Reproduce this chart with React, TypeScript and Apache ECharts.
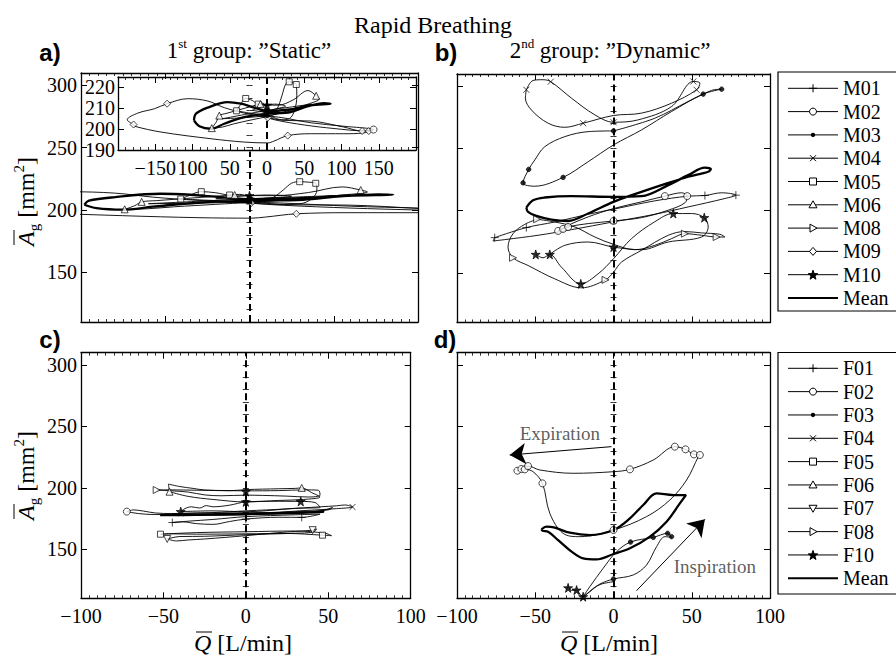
import React, { useEffect, useRef } from 'react';
import * as echarts from 'echarts';

type Pt = [number, number];

// ---------------- tick labels ----------------
const xTickValues = [-100, -50, 0, 50, 100];
const yTickValues = [150, 200, 250, 300];
const insetXLabelValues = [-150, -100, -50, 0, 50, 100, 150];
const insetXLabelTexts = ['\u2212150', '100', '50', '0', '50', '100', '150'];
const insetYTickValues = [190, 200, 210, 220];

// ---------------- panel a (1st group, males) + inset ----------------
const aM09: Pt[] = [[-179.1,202.2],[-187.6,204.5],[-173.3,207.7],[-151,209.8],[-134.1,212.2],[-106.4,214.6],[-79.7,213.5],[-57.4,210.3],[-30.6,207.7],[1,205.5],[22.9,204.2],[58.5,203.9],[103.1,201],[127.7,199.1],[143.3,199.8],[129.9,198.2],[103.1,197.8],[58.5,197.8],[27.8,196.9],[9.5,194.3],[1,193.4],[-30.6,193.8],[-75.2,195.4],[-142.1,198.6],[-177.8,201.4],[-179.1,202.2]];
const aM09Marks: Pt[] = [[-179.1,202.2],[-134.1,212.2],[1,205.5],[27.8,196.9],[127.7,199.1],[136.6,199.1]];
const aM05: Pt[] = [[-40.8,208.8],[-36,211.5],[-28.6,214.7],[-20,213.8],[-11.8,212],[-6,212.5],[0,210.5],[8,208],[14,210],[20,216],[25,221.5],[29.8,222.7],[35,222.3],[39.3,221.4],[40,216],[37,209],[30,205],[20,204.5],[5,206],[-10,207],[-25,207.8],[-40.8,208.8]];
const aM05Marks: Pt[] = [[-40.8,208.8],[-28.6,214.7],[-11.8,212],[29.8,222.7],[39.3,221.4]];
const aM06: Pt[] = [[-74.1,200.5],[-68,203.5],[-64,206.5],[-55,207.5],[-45,208.5],[-30,210],[-15,211.5],[-8.8,212],[0,211.5],[15,211.5],[35,214],[55,218.5],[66,216],[70,214.5],[55,212],[30,209],[10,207],[0,206],[-20,204.5],[-45,202.5],[-60,201],[-74.1,200.5]];
const aM06Marks: Pt[] = [[-74.1,200.5],[-64,206.5],[-8.8,212],[66,216]];
const aM02: Pt[] = [[-10,206.8],[20,205.5],[60,203],[100,201.5],[143,199.8],[130,199.2],[90,200.3],[50,202],[10,204.5],[-10,206.8]];
const aM02Marks: Pt[] = [[143,199.8]];
const aM03: Pt[] = [[-60,205],[-30,207],[0,209],[30,210.5],[60,212],[30,208.5],[0,206.5],[-30,205.5],[-60,205]];
const aM03Marks: Pt[] = [[0,209],[0,206.5]];
const aM10: Pt[] = [[-20,209],[-10,210.5],[0,211.5],[10,212],[25,211],[10,209.5],[0,208],[-10,208.5],[-20,209]];
const aM10Marks: Pt[] = [[0,211.5],[0,208]];
const aMean: Pt[] = [[-98,204.2],[-95.3,207.4],[-79.7,210.3],[-52.9,213],[-35.1,212.2],[-17.3,210.3],[1,208.7],[27.3,209.3],[58.5,211.4],[85.3,212.2],[76.4,212.5],[54,210.9],[31.8,208.2],[1,207.4],[-30.6,205.8],[-57.4,202.6],[-75.2,200.2],[-90.8,201.4],[-98,204.2]];

// ---------------- panel b (2nd group, males) ----------------
const bM04: Pt[] = [[-55.7,297.3],[-51.4,304.8],[-45,305.4],[-40.1,303.8],[-26.9,290.6],[-11.9,277.1],[0,271.2],[15.8,273.1],[37.1,283.8],[51,304],[55.2,302.7],[53.1,297.3],[37.1,286.5],[17.9,278.5],[0,276.6],[-19.4,270.4],[-31.1,267.1],[-41.8,270.4],[-52.5,281.1],[-56.3,290.6],[-55.7,297.3]];
const bM04Marks: Pt[] = [[-55.7,297.3],[-40.1,303.8],[0,271.2],[51,304],[53.1,297.3],[-19.4,270.4]];
const bM03: Pt[] = [[0,264.2],[-16.2,263.6],[-31.1,259.6],[-43.9,251.5],[-50.3,240.8],[-54.2,233.2],[-57.8,222.4],[-50.3,219.7],[-32.2,226.8],[-16.2,239.4],[0,252.9],[17.9,265],[37.1,279.8],[57.3,293.8],[69.1,297.8],[62.7,296.8],[47.7,287.9],[26.4,274.4],[0,264.2]];
const bM03Marks: Pt[] = [[0,264.2],[-54.2,233.2],[-57.8,222.4],[-32.2,226.8],[57.3,293.8],[69.1,297.8]];
const bMean: Pt[] = [[-55.7,202.5],[-51.4,208.4],[-43.9,210.6],[-26.9,211.7],[0,211.1],[17.9,211.7],[35,220.6],[47.7,228.6],[58.4,234.6],[62.2,233.5],[60.5,231.3],[47.7,227.3],[30.7,220.6],[13.6,213.3],[0,207.1],[-16.2,197.7],[-29,191.7],[-39.7,192.8],[-49.3,195.8],[-54.6,199],[-55.7,202.5]];
const bM01: Pt[] = [[-75.9,178.3],[-55.7,186.4],[-37.5,190.9],[-16.2,197.1],[0,201.2],[26.4,207.9],[47.7,211.7],[58.4,212.2],[69.1,214.4],[78.2,212.5],[71.2,209.8],[47.7,203],[26.4,197.1],[0,191],[-26.9,184.7],[-48.2,180.2],[-69.5,176.7],[-77,175.6],[-75.9,178.3]];
const bM01Marks: Pt[] = [[-75.9,178.3],[-55.7,186.4],[58.4,212.2],[78.2,212.5]];
const bM02: Pt[] = [[-35.4,183.7],[-29,186.9],[-16.2,189.6],[0,191.7],[17.9,194.4],[35,200.4],[45.6,206.3],[47.1,211.7],[43.5,214.4],[32.8,211.7],[17.9,207.1],[0,201.7],[-16.2,195],[-29,188.2],[-35.4,183.7]];
const bM02Marks: Pt[] = [[-35.4,183.7],[-32.2,185.3],[-29,186.9],[0,191.7],[32.8,211.7],[47.1,211.7]];
const bM10: Pt[] = [[-49.7,164.8],[-45,162.1],[-40.7,164.8],[-33.3,154.6],[-20.9,141.1],[-9.8,149.2],[0,161.3],[11.5,177.5],[26.4,191.1],[38.2,197.7],[49.9,197.7],[58,194.4],[60.5,186.9],[56.3,178.8],[35,174.8],[17.9,168.6],[0,170.7],[-16.2,174.8],[-31.1,172.1],[-40.7,164.8]];
const bM10Marks: Pt[] = [[-49.7,164.8],[-40.7,164.8],[-20.9,141.1],[38.2,197.7],[58,194.4],[0,170.7]];
const bM08: Pt[] = [[-48.8,193.1],[-37.5,190.9],[-24.7,186.9],[-11.9,178.8],[0,172.9],[13.6,168.6],[26.4,172.1],[37.1,177.5],[45.6,181.5],[56.3,180.2],[65.9,178.8],[71.2,178.8],[68,181],[56.3,182.1],[45.6,183.2],[35,180.2],[17.9,168.1],[5.1,158.6],[0,150.5],[-5.1,144.3],[-20.5,137.9],[-37.5,145.1],[-54.6,155.9],[-64.2,162.1],[-67.4,170.7],[-64.2,181.5],[-56.7,189],[-48.8,193.1]];
const bM08Marks: Pt[] = [[-48.8,193.1],[-64.2,162.1],[-5.1,144.3],[45.6,181.5],[65.9,178.8]];

// ---------------- panel c (1st group, females) ----------------
const cF08: Pt[] = [[-54.1,198.2],[-46,198.3],[-30,198],[-15,197.8],[0,197.5],[20,197.7],[35,198.3],[44,198],[45,194],[38,192.5],[25,193.2],[10,193.8],[0,194],[-15,193.5],[-25,194.2],[-35,196.5],[-45,197.5],[-54.1,198.2]];
const cF08Marks: Pt[] = [[-54.1,198.2]];
const cF06: Pt[] = [[-46.3,196.8],[-47,203],[-40,201],[-32,199.5],[-25,198.2],[-10,197.6],[0,198.5],[20,199.2],[30,199.5],[33.9,199.9],[40,196],[45,192.5],[35,190.5],[20,189.7],[0,188.5],[-20,190.5],[-35,193],[-46.3,196.8]];
const cF06Marks: Pt[] = [[-46.3,196.8],[33.9,199.9]];
const cF10: Pt[] = [[-39.5,180.6],[-37,183],[-33,184.5],[-28,183.5],[-24,185.5],[-20,184.5],[-10,185.8],[0,188.5],[15,189],[33.3,188.9],[42,188],[45,184],[30,183.3],[0,180.5],[-20,181.2],[-39.5,180.6]];
const cF10Marks: Pt[] = [[-39.5,180.6],[0,188.5],[33.3,188.9],[0,197]];
const cF02: Pt[] = [[-72.2,180.6],[-68,182],[-62,181],[-55,179.5],[-45,179],[-30,179.5],[0,179.5],[30,180.5],[50,182],[52.6,184],[45,181],[20,179],[0,178.5],[-30,178.3],[-55,178.2],[-65,179],[-72.2,180.6]];
const cF02Marks: Pt[] = [[-72.2,180.6]];
const cF04: Pt[] = [[-45,178.8],[-20,179.8],[0,181.2],[25,182.8],[45,184.5],[55,185.3],[60,186],[64.7,184.4],[55,183],[30,181],[0,178],[-20,177.8],[-45,178.8]];
const cF04Marks: Pt[] = [[64.7,184.4]];
const cF05: Pt[] = [[-51.8,162.2],[-45,162.5],[-30,162.2],[0,162.5],[25,162.8],[46.5,161.4],[52,161],[48,163],[30,164.8],[0,164.2],[-30,163.5],[-51.8,162.2]];
const cF05Marks: Pt[] = [[-51.8,162.2],[46.5,161.4]];
const cF07: Pt[] = [[-47.7,158.3],[-42,156.7],[-35,157.5],[-25,158.3],[0,161],[20,163.5],[40.5,165.5],[43,166.5],[41,164],[30,163],[0,161.8],[-25,160.5],[-40,160.3],[-47.7,158.3]];
const cF07Marks: Pt[] = [[-47.7,158.3],[40.5,165.5]];
const cF01: Pt[] = [[-44.6,171.7],[-38,172.2],[-30,170.8],[-20,170.2],[-10,172.5],[0,174.5],[20,176],[33.9,175.9],[45,178.5],[30,178],[0,176.5],[-20,174.2],[-35,172.8],[-44.6,171.7]];
const cF01Marks: Pt[] = [[-44.6,171.7],[0,174.5],[33.9,175.9]];
const cMean: Pt[] = [[-52,177.8],[-30,178.2],[0,179],[30,179.8],[47,180.3],[30,179.4],[0,178.6],[-30,177.9],[-52,177.8]];

// ---------------- panel d (2nd group, females) ----------------
const dF02: Pt[] = [[-61.4,213.9],[-58.9,215.8],[-54.6,217.7],[-47.1,214.5],[-25.8,211.8],[0,213.1],[10.5,215],[25.4,222.6],[39.2,233.5],[46,231.3],[51.4,227.2],[55.2,226.7],[54.2,225.3],[46.7,206.3],[36,190],[21.1,176.5],[0,165.6],[-21.5,160.2],[-32.2,162.9],[-40.7,179.2],[-45.4,203.6],[-51.4,213.1],[-56.7,215],[-61.4,213.9]];
const dF02Marks: Pt[] = [[-61.4,213.9],[-58.9,215.3],[-56.7,215],[-54.6,217.7],[-45.4,203.6],[0,165.6],[10.5,215],[39.2,233.5],[46,231.3],[51.4,227.2],[55.2,226.7]];
const dMean: Pt[] = [[-46,166.1],[-42.8,168.3],[-37.5,167.5],[-27.9,163.4],[-15.1,161.5],[0,165.6],[10.5,175.1],[19,186],[27.5,195.4],[38.2,194.1],[46.3,194.1],[42.4,187.3],[33.9,172.4],[23.3,160.2],[10.5,150.7],[0,146.1],[-10.9,141.7],[-19.4,142.5],[-26.8,148],[-35.4,157.4],[-41.8,164.2],[-45.4,165],[-46,166.1]];
const dF03: Pt[] = [[-19.4,111.3],[-15.1,119.5],[-6.6,134.4],[1.9,147.9],[10.9,155.8],[25.4,159.6],[34.6,162.9],[37.1,159.6],[32.9,160.2],[27.5,152],[21.1,137.1],[12.6,129],[0,125.7],[-8.7,121.6],[-15.1,115.4],[-19.4,111.3]];
const dF03Marks: Pt[] = [[10.9,155.8],[25.4,159.6],[34.6,162.9],[37.1,160.2],[0,125.7]];
const dF10: Pt[] = [[-30,117],[-29,119.5],[-27,116.5],[-23.6,116.7],[-21.5,113.5],[-19.4,111.3],[-17.5,113],[-13,118],[-8,121.5],[0,123.5]];
const dF10Marks: Pt[] = [[-29,118.5],[-23.6,116.7],[-19.4,111.3]];
const expirationArrow: Pt[] = [[-1.3,233.5],[-66.3,226.7]];
const inspirationArrow: Pt[] = [[14.7,116.2],[58.4,174.3]];
const expirationLabel: Pt = [-34.3,243.8];
const inspirationLabel: Pt = [64.8,135.7];

// ---------------- legends ----------------
const legendM = ['M01','M02','M03','M04','M05','M06','M08','M09','M10','Mean'];
const legendF = ['F01','F02','F03','F04','F05','F06','F07','F08','F10','Mean'];
const SYM_OF: Record<string,string> = {
  M01:'plus', M02:'circle', M03:'dot', M04:'cross', M05:'square', M06:'tri', M08:'triR', M09:'diamond', M10:'star',
  F01:'plus', F02:'circle', F03:'dot', F04:'cross', F05:'square', F06:'tri', F07:'triD', F08:'triR', F10:'star', Mean:'none',
};

const FONT = 'Liberation Serif, DejaVu Serif, serif';
const SANS = 'Liberation Sans, DejaVu Sans, sans-serif';

const STAR_PATH = 'path://M50,0L61,35L98,35L68,57L79,91L50,70L21,91L32,57L2,35L39,35Z';
const SYMBOLS: Record<string, { symbol: string; size: number; fill: string }> = {
  plus: { symbol: 'path://M5,0L5,10M0,5L10,5', size: 8, fill: 'transparent' },
  circle: { symbol: 'circle', size: 7, fill: '#fff' },
  dot: { symbol: 'circle', size: 4.5, fill: '#000' },
  cross: { symbol: 'path://M0,0L10,10M10,0L0,10', size: 6, fill: 'transparent' },
  square: { symbol: 'rect', size: 6, fill: '#fff' },
  tri: { symbol: 'triangle', size: 7, fill: '#fff' },
  triR: { symbol: 'path://M0,0L10,5L0,10Z', size: 7, fill: '#fff' },
  triD: { symbol: 'path://M0,0L10,0L5,10Z', size: 7, fill: '#fff' },
  diamond: { symbol: 'diamond', size: 7, fill: '#fff' },
  star: { symbol: STAR_PATH, size: 9, fill: '#000' },
};

type Curve = { name: string; pts: Pt[]; marks: Pt[] };
const curvesA: Curve[] = [
  { name: 'M09', pts: aM09, marks: aM09Marks },
  { name: 'M05', pts: aM05, marks: aM05Marks },
  { name: 'M06', pts: aM06, marks: aM06Marks },
  { name: 'M02', pts: aM02, marks: aM02Marks },
  { name: 'M03', pts: aM03, marks: aM03Marks },
  { name: 'M10', pts: aM10, marks: aM10Marks },
  { name: 'Mean', pts: aMean, marks: [] },
];
const curvesB: Curve[] = [
  { name: 'M04', pts: bM04, marks: bM04Marks },
  { name: 'M03', pts: bM03, marks: bM03Marks },
  { name: 'M01', pts: bM01, marks: bM01Marks },
  { name: 'M02', pts: bM02, marks: bM02Marks },
  { name: 'M10', pts: bM10, marks: bM10Marks },
  { name: 'M08', pts: bM08, marks: bM08Marks },
  { name: 'Mean', pts: bMean, marks: [] },
];
const curvesC: Curve[] = [
  { name: 'F08', pts: cF08, marks: cF08Marks },
  { name: 'F06', pts: cF06, marks: cF06Marks },
  { name: 'F10', pts: cF10, marks: cF10Marks },
  { name: 'F02', pts: cF02, marks: cF02Marks },
  { name: 'F04', pts: cF04, marks: cF04Marks },
  { name: 'F05', pts: cF05, marks: cF05Marks },
  { name: 'F07', pts: cF07, marks: cF07Marks },
  { name: 'F01', pts: cF01, marks: cF01Marks },
  { name: 'Mean', pts: cMean, marks: [] },
];
const curvesD: Curve[] = [
  { name: 'F02', pts: dF02, marks: dF02Marks },
  { name: 'F03', pts: dF03, marks: dF03Marks },
  { name: 'F10', pts: dF10, marks: dF10Marks },
  { name: 'Mean', pts: dMean, marks: [] },
];

const fmtNum = (v: number) => String(v).replace('-', '\u2212');

function buildOption() {
  const grids: any[] = [];
  const xAxes: any[] = [];
  const yAxes: any[] = [];
  const series: any[] = [];

  const lineAx = { show: true, onZero: false, lineStyle: { color: '#000', width: 1.3 } };
  const labelBase = { color: '#000', fontFamily: FONT, fontSize: 20 };

  function addPanel(
    rect: { l: number; t: number; w: number; h: number },
    xr: { min: number; max: number; interval: number; minor: number },
    yr: { min: number; max: number; ticks: number[]; minorInterval: number | null },
    xLabel: any,
    yLabel: any,
  ) {
    const gi = grids.length;
    grids.push({ left: rect.l, top: rect.t, width: rect.w, height: rect.h, containLabel: false });
    const xi = xAxes.length;
    ['bottom', 'top'].forEach((pos, k) => {
      xAxes.push({
        type: 'value', gridIndex: gi, position: pos, min: xr.min, max: xr.max, interval: xr.interval,
        axisLine: lineAx,
        axisTick: { show: true, inside: true, length: 6, lineStyle: { color: '#000', width: 1 } },
        minorTick: { show: true, splitNumber: xr.minor, length: 3, lineStyle: { color: '#000', width: 0.8 } },
        splitLine: { show: false }, minorSplitLine: { show: false },
        axisLabel: k === 0 && xLabel ? { show: true, margin: 8, ...labelBase, ...xLabel } : { show: false },
      });
    });
    const yi = yAxes.length;
    ['left', 'right'].forEach((pos, k) => {
      yAxes.push({
        type: 'value', gridIndex: gi, position: pos, min: yr.min, max: yr.max,
        axisLine: lineAx,
        axisTick: { show: true, inside: true, length: 6, customValues: yr.ticks, lineStyle: { color: '#000', width: 1 } },
        minorTick: { show: false },
        splitLine: { show: false },
        axisLabel: k === 0 && yLabel ? { show: true, margin: 4, customValues: yr.ticks, ...labelBase, ...yLabel } : { show: false },
      });
      if (yr.minorInterval) {
        yAxes.push({
          type: 'value', gridIndex: gi, position: pos, min: yr.min, max: yr.max, interval: yr.minorInterval,
          axisLine: { show: false },
          axisTick: { show: true, inside: true, length: 3, lineStyle: { color: '#000', width: 0.8 } },
          splitLine: { show: false },
          axisLabel: { show: false },
        });
      }
    });
    return { xi, yi };
  }

  const mainY = { min: 110, max: 310, ticks: yTickValues, minorInterval: 10 };
  const mainX = { min: -100, max: 100, interval: 50, minor: 10 };
  const xLab = { customValues: xTickValues, formatter: (v: number) => fmtNum(v) };
  const yLab = { formatter: (v: number) => fmtNum(v) };

  const pA = addPanel({ l: 81, t: 73, w: 337, h: 249 }, mainX, mainY, null, yLab);
  const pB = addPanel({ l: 457, t: 74, w: 313, h: 248.5 }, mainX, mainY, null, null);
  const pC = addPanel({ l: 81, t: 352.7, w: 329.7, h: 245.6 }, mainX, mainY, xLab, yLab);
  const pD = addPanel({ l: 457, t: 352.7, w: 313, h: 245.6 }, mainX, mainY, xLab, null);
  const pI = addPanel(
    { l: 118, t: 77, w: 298, h: 73 },
    { min: -200, max: 200, interval: 50, minor: 5 },
    { min: 190, max: 225, ticks: insetYTickValues, minorInterval: null },
    { customValues: insetXLabelValues, formatter: (v: number) => insetXLabelTexts[insetXLabelValues.indexOf(v)] ?? '' },
    { margin: 3 },
  );

  const dashed = { color: '#000', type: [7, 4], width: 2 };

  function addCurves(curves: Curve[], p: { xi: number; yi: number }, meanMarkLine: any) {
    curves.forEach((c) => {
      const isMean = c.name === 'Mean';
      series.push({
        type: 'line', name: c.name, xAxisIndex: p.xi, yAxisIndex: p.yi,
        data: c.pts, smooth: 0.35, showSymbol: false, symbol: 'none', clip: true, silent: true,
        lineStyle: { color: '#000', width: isMean ? 2.3 : 0.9 }, z: isMean ? 3 : 2,
        markLine: isMean ? meanMarkLine : undefined,
      });
      if (c.marks.length) {
        const s = SYMBOLS[SYM_OF[c.name]];
        series.push({
          type: 'scatter', name: c.name, xAxisIndex: p.xi, yAxisIndex: p.yi, data: c.marks,
          symbol: s.symbol, symbolSize: s.size, clip: true, silent: true, z: 4,
          itemStyle: { color: s.fill, borderColor: '#000', borderWidth: 0.9 },
        });
      }
    });
  }

  const zeroLine = { silent: true, symbol: ['none', 'none'], label: { show: false }, lineStyle: dashed, data: [{ xAxis: 0 }] };
  addCurves(curvesA, pA, { ...zeroLine, data: [[{ coord: [0, 110] }, { coord: [0, 247] }]] });
  addCurves(curvesA, pI, zeroLine);
  addCurves(curvesB, pB, zeroLine);
  addCurves(curvesC, pC, zeroLine);
  addCurves(curvesD, pD, zeroLine);

  // arrows and annotations in panel d
  series.push({
    type: 'line', name: 'arrows', xAxisIndex: pD.xi, yAxisIndex: pD.yi, data: [], silent: true,
    markLine: {
      silent: true, symbol: ['none', 'arrow'], symbolSize: 16, label: { show: false },
      lineStyle: { color: '#000', type: 'solid', width: 1 },
      itemStyle: { color: '#000' },
      data: [
        [{ coord: expirationArrow[0] }, { coord: expirationArrow[1] }],
        [{ coord: inspirationArrow[0] }, { coord: inspirationArrow[1] }],
      ],
    },
  });
  series.push({
    type: 'scatter', name: 'notes', xAxisIndex: pD.xi, yAxisIndex: pD.yi, silent: true,
    symbolSize: 1, itemStyle: { color: 'transparent' },
    label: { show: true, position: 'inside', formatter: (p: any) => p.name, fontFamily: FONT, fontSize: 19, color: '#333' },
    data: [
      { name: 'Expiration', value: expirationLabel },
      { name: 'Inspiration', value: inspirationLabel },
    ],
  });

  // ---------- graphics: titles, axis names, legends ----------
  const graphic: any[] = [];
  const txt = (x: number, y: number, text: string, extra: any = {}) => ({
    type: 'text', x, y, silent: true,
    style: { text, fontFamily: FONT, fontSize: 20, fill: '#000', align: 'center', verticalAlign: 'middle', ...extra },
  });
  graphic.push(txt(433, 25, 'Rapid Breathing', { fontSize: 24 }));
  const supRich = {
    n: { fontSize: 23, fontFamily: FONT, fill: '#000', lineHeight: 26 },
    s: { fontSize: 13, fontFamily: FONT, fill: '#000', verticalAlign: 'top', lineHeight: 26 },
  };
  graphic.push(txt(249, 50, '{n|1}{s|st}{n| group: \u201dStatic\u201d}', { rich: supRich }));
  graphic.push(txt(610, 50, '{n|2}{s|nd}{n| group: \u201dDynamic\u201d}', { rich: supRich }));
  const bold = { fontFamily: SANS, fontWeight: 'bold', fontSize: 24 };
  graphic.push(txt(50, 52, 'a)', bold));
  graphic.push(txt(446, 52, 'b)', bold));
  graphic.push(txt(50, 339, 'c)', bold));
  graphic.push(txt(445, 339, 'd)', bold));

  const axRich = {
    a: { fontSize: 24, fontFamily: FONT, fontStyle: 'italic', fill: '#000', lineHeight: 30 },
    t: { fontSize: 24, fontFamily: FONT, fill: '#000', lineHeight: 30 },
    s: { fontSize: 15, fontFamily: FONT, fill: '#000', verticalAlign: 'bottom', lineHeight: 30 },
    p: { fontSize: 15, fontFamily: FONT, fill: '#000', verticalAlign: 'top', lineHeight: 30 },
  };
  const yName = (cy: number) => ({
    type: 'group', x: 26, y: cy, rotation: Math.PI / 2, silent: true,
    children: [
      { type: 'text', x: -46, y: 0, style: { text: '{a|A}{s|g}{t| [mm}{p|2}{t|]}', rich: axRich, align: 'left', verticalAlign: 'middle', fill: '#000' } },
      { type: 'line', shape: { x1: -45, y1: -12, x2: -30, y2: -12 }, style: { stroke: '#000', lineWidth: 1 } },
    ],
  });
  graphic.push(yName(200), yName(474));
  const xName = (cx: number) => ({
    type: 'group', x: cx, y: 643, silent: true,
    children: [
      { type: 'text', x: -51, y: 0, style: { text: '{a|Q}{t| [L/min]}', rich: axRich, align: 'left', verticalAlign: 'middle', fill: '#000' } },
      { type: 'line', shape: { x1: -49, y1: -11, x2: -33, y2: -11 }, style: { stroke: '#000', lineWidth: 1 } },
    ],
  });
  graphic.push(xName(245), xName(611));

  const marker = (sym: string, cx: number, cy: number): any[] => {
    const st = { stroke: '#000', lineWidth: 1, fill: '#fff' };
    const ln = (x1: number, y1: number, x2: number, y2: number) => ({ type: 'line', shape: { x1, y1, x2, y2 }, style: { stroke: '#000', lineWidth: 1 } });
    const poly = (pts: number[][], fill = '#fff') => ({ type: 'polygon', shape: { points: pts }, style: { ...st, fill } });
    switch (sym) {
      case 'plus': return [ln(cx - 4, cy, cx + 4, cy), ln(cx, cy - 4, cx, cy + 4)];
      case 'circle': return [{ type: 'circle', shape: { cx, cy, r: 3.5 }, style: st }];
      case 'dot': return [{ type: 'circle', shape: { cx, cy, r: 2.2 }, style: { fill: '#000' } }];
      case 'cross': return [ln(cx - 3, cy - 3, cx + 3, cy + 3), ln(cx - 3, cy + 3, cx + 3, cy - 3)];
      case 'square': return [{ type: 'rect', shape: { x: cx - 3.5, y: cy - 3.5, width: 7, height: 7 }, style: st }];
      case 'tri': return [poly([[cx, cy - 4], [cx + 4, cy + 3], [cx - 4, cy + 3]])];
      case 'triR': return [poly([[cx - 3, cy - 4], [cx + 4, cy], [cx - 3, cy + 4]])];
      case 'triD': return [poly([[cx - 4, cy - 3], [cx + 4, cy - 3], [cx, cy + 4]])];
      case 'diamond': return [poly([[cx, cy - 4], [cx + 3.5, cy], [cx, cy + 4], [cx - 3.5, cy]])];
      case 'star': {
        const u = [[0,-1],[0.235,-0.324],[0.951,-0.309],[0.38,0.124],[0.588,0.809],[0,0.4],[-0.588,0.809],[-0.38,0.124],[-0.951,-0.309],[-0.235,-0.324]];
        return [poly(u.map(([a, b]) => [cx + a * 5, cy + b * 5 + 0.5]), '#000')];
      }
      default: return [];
    }
  };
  const legend = (names: string[], top: number, bottom: number, firstY: number, step: number) => {
    graphic.push({ type: 'rect', silent: true, shape: { x: 778, y: top, width: 140, height: bottom - top }, style: { fill: '#fff', stroke: '#000', lineWidth: 1.2 } });
    names.forEach((n, i) => {
      const cy = firstY + i * step;
      graphic.push({ type: 'line', silent: true, shape: { x1: 788, y1: cy, x2: 838, y2: cy }, style: { stroke: '#000', lineWidth: n === 'Mean' ? 2.2 : 1 } });
      marker(SYM_OF[n], 813, cy).forEach((m) => graphic.push({ ...m, silent: true }));
      graphic.push(txt(843, cy, n, { align: 'left' }));
    });
  };
  legend(legendM, 72, 311, 88.3, 23.3);
  legend(legendF, 352.5, 594, 368.3, 23.33);

  return {
    animation: false,
    backgroundColor: '#fff',
    tooltip: { show: false },
    textStyle: { fontFamily: FONT },
    grid: grids,
    xAxis: xAxes,
    yAxis: yAxes,
    series,
    graphic,
  };
}

export default function App() {
  const ref = useRef<HTMLDivElement>(null);
  useEffect(() => {
    const prevMargin = document.body.style.margin;
    document.body.style.margin = '0';
    document.body.style.overflow = 'hidden';
    if (!ref.current) return;
    const chart = echarts.init(ref.current, undefined, { renderer: 'svg', width: 896, height: 656 });
    chart.setOption(buildOption() as any);
    return () => {
      chart.dispose();
      document.body.style.margin = prevMargin;
    };
  }, []);
  return <div ref={ref} style={{ width: 896, height: 656, background: '#fff' }} />;
}
